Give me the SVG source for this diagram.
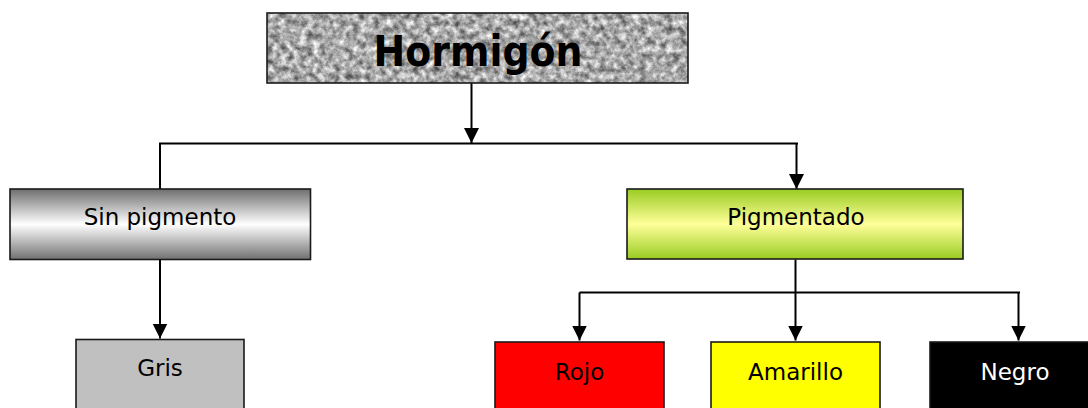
<svg xmlns="http://www.w3.org/2000/svg" width="1088" height="408" viewBox="0 0 1088 408">
  <style>
    .box { stroke: #1a1a1a; stroke-width: 1.6; }
    .lbl { font-family: "DejaVu Sans", Verdana, sans-serif; font-size: 23px; text-anchor: middle; fill: #000; }
    .title { font-family: "DejaVu Sans", Verdana, sans-serif; font-size: 43px; font-weight: bold; text-anchor: middle; fill: #000; }
    .conn { fill: none; stroke: #000; stroke-width: 2; }
  </style>
  <defs>
    <marker id="arrow" markerUnits="userSpaceOnUse" markerWidth="16" markerHeight="16" viewBox="0 0 16 16" refX="15" refY="8" orient="auto">
      <path d="M0,0.5 L15,8 L0,15.5 z" fill="#000"/>
    </marker>
    <linearGradient id="gradGray" x1="0" y1="0" x2="0" y2="1">
      <stop offset="0" stop-color="#6e6e6e"/>
      <stop offset="0.5" stop-color="#ffffff"/>
      <stop offset="1" stop-color="#707070"/>
    </linearGradient>
    <linearGradient id="gradGreen" x1="0" y1="0" x2="0" y2="1">
      <stop offset="0" stop-color="#99cc22"/>
      <stop offset="0.5" stop-color="#ffff99"/>
      <stop offset="1" stop-color="#99cc22"/>
    </linearGradient>
    <filter id="granite" x="0" y="0" width="100%" height="100%" color-interpolation-filters="sRGB">
      <feTurbulence type="fractalNoise" baseFrequency="0.15" numOctaves="4" seed="7"/>
      <feColorMatrix type="matrix" values="1.0 0 0 0 0.16  1.0 0 0 0 0.16  1.0 0 0 0 0.16  0 0 0 0 1"/>
    </filter>
  </defs>

  <g id="connectors">
    <path class="conn" d="M471.5,83 V143" marker-end="url(#arrow)"/>
    <path class="conn" d="M160,189 V143.5 H798"/>
    <path class="conn" d="M796.5,143.5 V189" marker-end="url(#arrow)"/>
    <path class="conn" d="M160,259.5 V338.5" marker-end="url(#arrow)"/>
    <path class="conn" d="M795.5,259.5 V340.5" marker-end="url(#arrow)"/>
    <path class="conn" d="M579.5,292.5 H1020"/>
    <path class="conn" d="M579.5,292.5 V340.5" marker-end="url(#arrow)"/>
    <path class="conn" d="M1018.5,292.5 V340.5" marker-end="url(#arrow)"/>
  </g>

  <g id="node-hormigon">
    <rect x="267" y="13" width="421" height="70" filter="url(#granite)"/>
    <rect class="box" x="267" y="13" width="421" height="70" fill="none"/>
    <text class="title" x="478" y="66" textLength="209" lengthAdjust="spacingAndGlyphs">Hormigón</text>
  </g>

  <g id="node-sin-pigmento">
    <rect class="box" x="10" y="189" width="300.5" height="70.5" fill="url(#gradGray)"/>
    <text class="lbl" x="160" y="225">Sin pigmento</text>
  </g>

  <g id="node-pigmentado">
    <rect class="box" x="627" y="189" width="336" height="70" fill="url(#gradGreen)"/>
    <text class="lbl" x="796" y="224.5">Pigmentado</text>
  </g>

  <g id="node-gris">
    <rect class="box" x="76" y="339.5" width="168" height="80" fill="#c0c0c0"/>
    <text class="lbl" x="160" y="376">Gris</text>
  </g>

  <g id="node-rojo">
    <rect class="box" x="495" y="342" width="169" height="80" fill="#ff0000"/>
    <text class="lbl" x="579.5" y="380">Rojo</text>
  </g>

  <g id="node-amarillo">
    <rect class="box" x="711" y="342" width="169" height="80" fill="#ffff00"/>
    <text class="lbl" x="795.5" y="380">Amarillo</text>
  </g>

  <g id="node-negro">
    <rect class="box" x="930" y="342" width="170" height="80" fill="#000000"/>
    <text class="lbl" x="1015" y="380" style="fill:#ffffff">Negro</text>
  </g>
</svg>
